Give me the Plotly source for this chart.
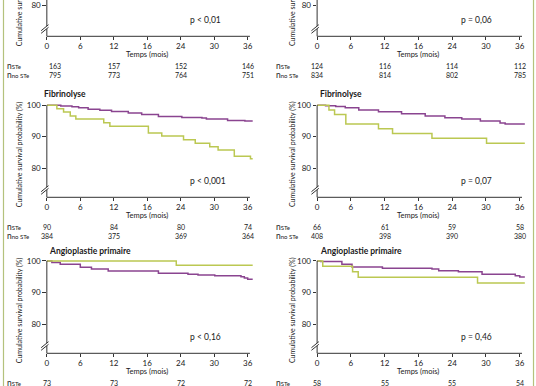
import plotly.graph_objects as go

W, H = 536, 386

# ---------------- data ----------------
month_ticks = [0, 6, 12, 18, 24, 30, 36]
month_tick_labels = ["0", "6", "12", "16", "24", "30", "36"]
y_ticks = [80, 90, 100]
y_tick_labels = ["80", "90", "100"]
n_months = [0, 12, 24, 36]

panel_titles = ["", "", "Fibrinolyse", "Fibrinolyse",
                "Angioplastie primaire", "Angioplastie primaire"]
p_values = ["p < 0,01", "p = 0,06", "p < 0,001", "p = 0,07", "p < 0,16", "p = 0,46"]

n_ste = [[163, 157, 152, 146], [124, 116, 114, 112],
         [90, 84, 80, 74], [66, 61, 59, 58],
         [73, 73, 72, 72], [58, 55, 55, 54]]
n_no_ste = [[795, 773, 764, 751], [834, 814, 802, 785],
            [384, 375, 369, 364], [408, 398, 390, 380],
            None, None]

# Fibrinolyse (left)
fib_l_ste_t = [0, 1.8, 3.0, 4.2, 5.2, 10.2, 11.3, 18.2, 20.6, 24.5, 26.6, 29.2, 30.7, 33.6, 36.5, 36.9]
fib_l_ste_s = [100, 98.9, 97.8, 96.6, 95.6, 94.4, 93.3, 91.2, 90.2, 89.0, 87.9, 86.8, 85.8, 83.8, 83.0, 83.0]
fib_l_no_t = [0, 2.5, 4.5, 5.7, 7.4, 9.5, 11.6, 14.6, 17.0, 20.0, 24.2, 27.8, 28.6, 32.4, 35.5, 36.9]
fib_l_no_s = [100, 99.7, 99.5, 99.2, 98.7, 98.4, 98.0, 97.5, 97.0, 96.4, 96.1, 95.9, 95.6, 95.1, 95.0, 95.0]

# Fibrinolyse (right)
fib_r_ste_t = [0, 2.1, 3.1, 5.1, 10.9, 13.4, 20.4, 30.1, 36.9]
fib_r_ste_s = [100, 98.5, 97.0, 94.0, 92.5, 91.0, 89.5, 87.9, 87.9]
fib_r_no_t = [0, 1.5, 3.3, 5.0, 7.4, 10.9, 15.0, 19.2, 22.7, 25.7, 29.0, 32.5, 33.4, 36.9]
fib_r_no_s = [100, 99.8, 99.6, 99.2, 98.5, 97.9, 97.3, 96.6, 96.0, 95.6, 95.0, 94.3, 94.0, 94.0]

# Angioplastie primaire (left)
ang_l_ste_t = [0, 23.2, 36.9]
ang_l_ste_s = [100, 98.6, 98.6]
ang_l_no_t = [0, 0.9, 2.4, 6.0, 8.0, 11.0, 20.0, 25.3, 27.1, 30.1, 34.8, 35.4, 36.0, 36.9]
ang_l_no_s = [100, 99.5, 98.9, 98.0, 97.4, 96.8, 96.1, 95.8, 95.5, 95.3, 95.0, 94.6, 94.2, 94.2]

# Angioplastie primaire (right)
ang_r_ste_t = [0, 1.0, 6.3, 7.3, 28.5, 36.9]
ang_r_ste_s = [100, 98.3, 96.6, 94.8, 93.0, 93.0]
ang_r_no_t = [0, 0.65, 4.4, 6.2, 11.6, 20.4, 21.6, 25.1, 29.3, 35.2, 36.0, 36.9]
ang_r_no_s = [100, 99.8, 98.9, 98.1, 97.7, 97.4, 96.9, 96.6, 95.8, 95.3, 94.9, 94.9]

curves = {
    3: [(fib_l_no_t, fib_l_no_s, "no STe"), (fib_l_ste_t, fib_l_ste_s, "STe")],
    4: [(fib_r_no_t, fib_r_no_s, "no STe"), (fib_r_ste_t, fib_r_ste_s, "STe")],
    5: [(ang_l_no_t, ang_l_no_s, "no STe"), (ang_l_ste_t, ang_l_ste_s, "STe")],
    6: [(ang_r_no_t, ang_r_no_s, "no STe"), (ang_r_ste_t, ang_r_ste_s, "STe")],
}

# ---------------- style / geometry ----------------
PURPLE = "#8A4490"
GREEN = "#BBC852"
AX = "#333333"
TXT = "#1a1a1a"
FONT = "Lato"

col_x0 = [45, 316.3]
col_scale = [5.6, 5.65]
col_title_off = [28, 24.5]
XMAX = 37
row_bot = [36.3, 197.3, 353.3]
row_scale = [3.15, 3.15, 3.165]
row_ymin = [70.1, 70.75, 70.8]
row_ymax = [81.6, 101.5, 101.5]


def px(x):
    return x / W


def py(y):
    return 1 - y / H


fig = go.Figure()
layout = {}
shapes = []
annotations = []

for k in range(6):
    idx = k + 1
    r, c = k // 2, k % 2
    x0 = col_x0[c]
    sx = col_scale[c]
    bot = row_bot[r]
    sy = row_scale[r]
    ymin, ymax = row_ymin[r], row_ymax[r]
    top = bot - (ymax - ymin) * sy
    xs = "" if idx == 1 else str(idx)
    layout["xaxis" + xs] = dict(
        domain=[px(x0), px(x0 + XMAX * sx)], range=[0, XMAX], anchor="y" + xs,
        tickvals=month_ticks, ticktext=month_tick_labels, ticks="outside",
        ticklen=3, tickcolor=AX, tickwidth=1, showline=False, showgrid=False,
        zeroline=False, tickfont=dict(family=FONT, size=8, color=TXT),
        ticklabelstandoff=-1, fixedrange=True)
    layout["yaxis" + xs] = dict(
        domain=[max(0, py(bot)), min(0.999, py(top))], range=[ymin, ymax], anchor="x" + xs,
        tickvals=y_ticks, ticktext=y_tick_labels, ticks="outside",
        ticklen=3.5, tickcolor=AX, tickwidth=1, showline=False, showgrid=False,
        zeroline=False, tickfont=dict(family=FONT, size=8, color=TXT),
        fixedrange=True)

    # axis lines (x axis + broken y axis)
    y100 = bot - (100 - ymin) * sy
    shapes.append(dict(type="line", xref="paper", yref="paper",
                       x0=px(x0), x1=px(x0 + 36.4 * sx), y0=py(bot), y1=py(bot),
                       line=dict(color=AX, width=1)))
    shapes.append(dict(type="line", xref="paper", yref="paper",
                       x0=px(x0), x1=px(x0), y0=py(bot), y1=py(bot - 7.4),
                       line=dict(color=AX, width=1)))
    shapes.append(dict(type="line", xref="paper", yref="paper",
                       x0=px(x0), x1=px(x0), y0=py(bot - 10.2), y1=py(max(y100, 0)),
                       line=dict(color=AX, width=1)))
    for off in (0, 2.6):
        shapes.append(dict(type="line", xref="paper", yref="paper",
                           x0=px(x0 - 5.7), y0=py(bot - 3 - off),
                           x1=px(x0 + 1.7), y1=py(bot - 9 - off),
                           line=dict(color=AX, width=1)))

    # y-axis title
    annotations.append(dict(xref="paper", yref="paper", x=px(x0 - col_title_off[c]),
                            y=py(bot - 43),
                            text="Cumulative survival probability (%)", textangle=-90,
                            showarrow=False, xanchor="center", yanchor="middle",
                            font=dict(family=FONT, size=7, color=TXT)))
    # x-axis title
    annotations.append(dict(xref="paper", yref="paper", x=px(x0 + 17.9 * sx), y=py(bot + 18.5),
                            text="Temps (mois)", showarrow=False,
                            xanchor="center", yanchor="middle",
                            font=dict(family=FONT, size=7.5, color=TXT)))
    # panel title
    if panel_titles[k]:
        tx = [None, None, 40, 317, 45, 317][k]
        ty = [None, 94, 251][r]
        annotations.append(dict(xref="paper", yref="paper", x=px(tx), y=py(ty),
                                text="<b>" + panel_titles[k] + "</b>", showarrow=False,
                                xanchor="left", yanchor="middle",
                                font=dict(family=FONT, size=8.5, color=TXT)))
    # p-value
    annotations.append(dict(xref="paper", yref="paper", x=px(x0 + 142), y=py(bot - 16.5),
                            text=p_values[k], showarrow=False,
                            xanchor="left", yanchor="middle",
                            font=dict(family=FONT, size=8.5, color=TXT)))
    # numbers at risk
    lab_x = [4, 274][c]
    rows_n = [(n_ste[k], "STe", 29.7)]
    if n_no_ste[k] is not None:
        rows_n.append((n_no_ste[k], "no STe", 39))
    for vals, lab, dy in rows_n:
        annotations.append(dict(xref="paper", yref="paper", x=px(lab_x), y=py(bot + dy),
                                text="n<span style='font-size:6px'>" + lab + "</span>",
                                showarrow=False, xanchor="left", yanchor="middle",
                                borderpad=0,
                                font=dict(family=FONT, size=8.5, color=TXT)))
        for j, (m, v) in enumerate(zip(n_months, vals)):
            shift = 8 if (k == 0 and j == 0) else 0
            annotations.append(dict(xref="paper", yref="paper",
                                    x=px(x0 + m * sx + shift), y=py(bot + dy),
                                    text=str(v), showarrow=False, borderpad=0,
                                    xanchor="center", yanchor="middle",
                                    font=dict(family=FONT, size=7, color=TXT)))

    # curves (top row: curves lie above the visible window -> empty placeholder trace)
    panel_curves = curves.get(idx, [])
    if not panel_curves:
        fig.add_trace(go.Scatter(x=[], y=[], mode="lines", xaxis="x" + xs,
                                 yaxis="y" + xs, showlegend=False, hoverinfo="skip"))
    for t, s, name in panel_curves:
        fig.add_trace(go.Scatter(
            x=t, y=s, mode="lines", line=dict(shape="hv", width=1.5,
                                              color=GREEN if name == "STe" else PURPLE),
            name=name, xaxis="x" + xs, yaxis="y" + xs, hoverinfo="skip",
            showlegend=False))

# frame lines
for fx in (1.5, 533.5):
    shapes.append(dict(type="line", xref="paper", yref="paper",
                       x0=px(fx), x1=px(fx), y0=0, y1=1,
                       line=dict(color="#B4C27C", width=1.2)))

fig.update_layout(
    width=W, height=H, margin=dict(l=0, r=0, t=0, b=0),
    paper_bgcolor="white", plot_bgcolor="white",
    showlegend=False, shapes=shapes, annotations=annotations,
    font=dict(family=FONT, color=TXT),
    **layout)

fig.write_html("out.html", config={"displayModeBar": False},
               post_script="document.body.style.margin='0';document.body.style.overflow='hidden';")
